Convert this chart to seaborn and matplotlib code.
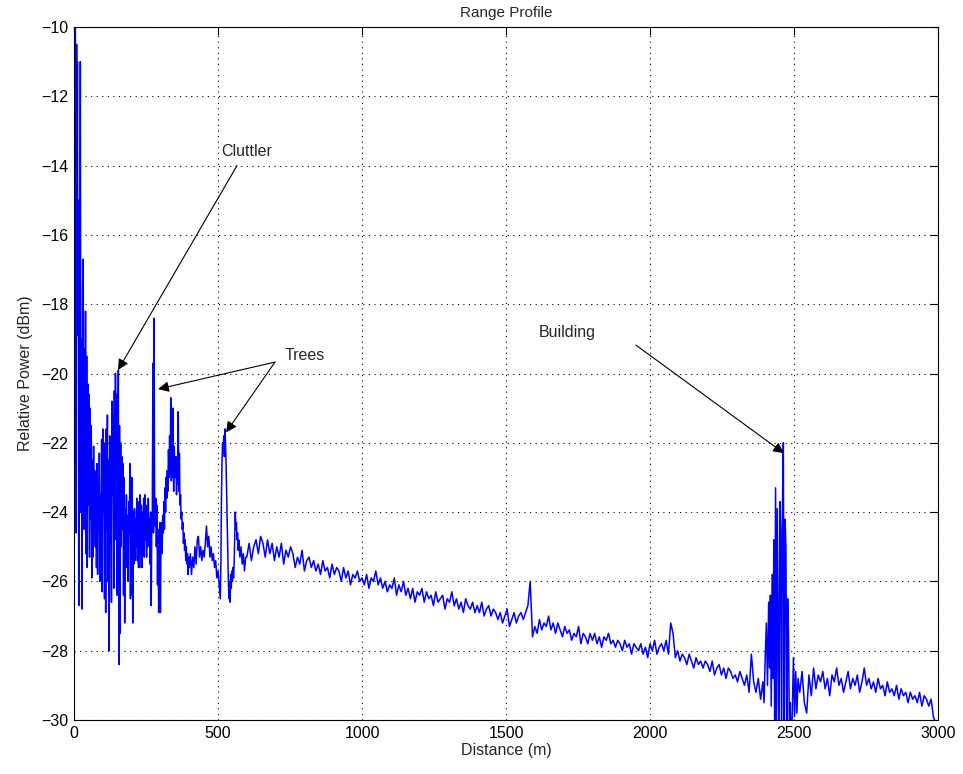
import numpy as np
import pandas as pd
import matplotlib
matplotlib.use("Agg")
import matplotlib.pyplot as plt
import seaborn as sns

# ---------------- data ----------------
near_dist = [0, 1.5, 3, 4.5, 6, 7.5, 9, 10.5, 12, 13.5, 15, 16.5, 18, 20, 22, 24, 26, 28, 30, 32,
             34, 36, 38, 40, 42, 44, 46, 48, 50, 52, 54, 56, 58,
             60, 62, 64, 66, 68, 70, 72, 74, 76, 78, 80, 82, 84, 86, 88, 90, 92, 94, 96, 98,
             100, 102, 104, 106, 108, 110, 112, 114, 116, 118, 120, 122, 124, 126, 128, 130,
             132, 134, 136, 138, 140, 142, 144, 146, 148, 150, 152, 154, 156, 158, 160, 162,
             164, 166, 168, 170, 172, 174, 176, 178, 180, 182, 184, 186, 188, 190, 192, 194,
             196, 198, 200, 202, 204, 206, 208, 210, 212, 214, 216, 218, 220, 222, 224, 226,
             228, 230, 232, 234, 236, 238, 240, 242, 244, 246, 248, 250, 252, 254, 256, 258,
             260, 262, 264, 266, 268, 270, 272, 274, 276, 278, 280, 282, 284, 286, 288, 290,
             292, 294, 296, 298, 300, 302, 304, 306, 308, 310, 312, 314, 316, 318, 320, 322,
             324, 326, 328, 330, 332, 334, 336, 338, 340, 342, 344, 346, 348, 350, 352, 354,
             356, 358, 360, 362, 364, 366, 368, 370, 372, 374, 376, 378, 380, 382, 384, 386,
             388, 390, 392, 394, 396, 398, 400, 404, 408, 412, 416, 420, 424, 428, 432, 436,
             440, 444, 448, 452, 456, 460, 464, 468, 472, 476, 480, 484, 488, 492, 496, 500,
             504, 508, 510, 512, 514, 516, 518, 520, 522, 524, 526, 528, 530, 532, 534, 536,
             538, 540, 542, 544, 546, 548, 550, 552, 554, 556, 558, 560, 562, 564, 566, 568,
             570, 572, 576, 580, 584, 588, 592, 596]
near_power = [-24.4, -8.0, -16.5, -9.0, -13.8, -24.6, -10.5, -16.0, -11.0, -18.9, -15.0, -26.7,
              -16.0, -18.8, -11.0, -24.0, -19.0, -26.8, -17.5, -16.7,
              -24.5, -19.3, -23.5, -18.2, -25.2, -19.5, -25.6, -20.3, -23.8, -20.6, -25.3, -21.0, -24.2,
              -21.5, -25.9, -22.5, -25.3, -22.1, -24.6, -22.8, -25.0, -23.0, -25.6, -22.6, -25.8,
              -23.2, -24.5, -22.3, -26.0, -23.5, -24.8, -21.9, -26.3,
              -21.6, -24.0, -22.4, -26.5, -22.0, -26.9, -21.6, -24.5, -21.2, -26.0, -22.5, -28.0,
              -21.8, -25.0, -22.3, -26.6,
              -20.8, -23.5, -21.2, -26.2, -20.5, -24.8, -20.0, -23.0, -20.6, -26.4, -22.8, -19.9,
              -28.4, -21.5, -27.5, -22.0,
              -25.0, -22.4, -24.5, -22.6, -26.4, -23.0, -27.2, -23.9, -25.4, -23.5, -25.6, -24.1,
              -26.0, -23.7, -24.6, -22.6,
              -26.5, -23.8, -26.4, -23.0, -27.2, -24.0, -25.5, -23.9, -25.4, -24.2, -25.0, -23.6,
              -25.4, -24.0, -25.6, -23.7,
              -25.6, -23.5, -25.2, -23.8, -25.6, -24.0, -24.8, -23.6, -25.3, -23.5, -24.8, -24.0,
              -25.3, -23.8, -25.0, -23.6,
              -24.8, -24.2, -25.5, -24.0, -26.7, -24.5, -24.0, -19.7, -24.6, -18.4, -23.7, -24.4,
              -23.6, -25.0, -23.8, -26.1,
              -24.5, -26.9, -25.0, -24.3, -26.9, -25.0, -24.3, -25.2, -24.1, -24.6, -23.7, -24.5,
              -23.3, -24.0, -23.0, -23.6,
              -22.8, -23.4, -22.2, -23.0, -21.8, -22.9, -20.7, -23.1, -22.4, -23.0, -21.0, -23.4,
              -22.1, -23.0, -22.6, -22.4,
              -23.5, -22.6, -23.2, -21.1, -23.4, -22.3, -23.8, -23.5, -24.2, -24.0, -24.5, -24.3,
              -24.9, -24.6, -25.1, -24.8,
              -25.4, -25.0, -25.5, -25.2, -25.8, -25.3, -25.6, -25.2, -25.8, -25.3, -25.6, -25.0,
              -25.5, -24.8, -24.7, -25.3,
              -25.0, -25.4, -25.1, -25.3, -24.9, -24.4, -25.0, -24.7, -25.3, -25.0, -25.4, -25.2,
              -25.6, -25.4, -25.9, -25.7,
              -26.1, -26.5, -25.5, -23.6, -22.5, -22.0, -22.2, -21.8, -22.4, -21.6, -22.0, -22.6,
              -23.4, -24.3, -25.2, -26.0,
              -26.5, -26.0, -26.6, -25.8, -26.2, -25.7, -26.0, -25.6, -25.9, -25.5, -24.8, -24.0,
              -24.5, -24.3, -24.8, -24.6,
              -25.1, -24.8, -25.3, -25.0, -25.5, -25.2, -25.7, -25.3]

mid_start = 600
mid_step = 8
mid_power = [
    -25.3, -24.9, -25.4, -25.0, -24.8, -25.2, -24.7, -24.9, -25.3, -24.8,
    -25.2, -24.9, -25.4, -25.0, -25.3, -24.9, -25.5, -25.1, -25.3, -25.0,
    -25.2, -25.6, -25.3, -25.5, -25.1, -25.7, -25.4, -25.3, -25.6, -25.4,
    -25.7, -25.5, -25.8, -25.4, -25.7, -25.6, -25.9, -25.5, -25.8, -25.6,
    -25.7, -26.0, -25.6, -25.9, -25.7, -26.1, -25.8, -25.9, -25.7, -26.0,
    -25.9, -26.1, -25.8, -26.2, -25.9, -26.0, -25.7, -26.1, -25.9, -26.2,
    -26.0, -26.3, -26.1, -26.2, -25.9, -26.4, -26.1, -26.3, -26.0, -26.4,
    -26.2, -26.5, -26.2, -26.6, -26.3, -26.4, -26.2, -26.6, -26.3, -26.5,
    -26.4, -26.7, -26.3, -26.6, -26.5, -26.4, -26.8, -26.5, -26.6, -26.3,
    -26.7, -26.5, -26.8, -26.6, -26.9, -26.5, -26.7, -26.8, -26.6, -26.9,
    -26.7, -26.9, -26.6, -27.0, -26.8, -26.7, -27.0, -26.8, -26.9, -27.1,
    -26.9, -27.2, -27.0, -26.8, -27.3, -27.1, -26.9, -27.2, -27.0, -26.9,
    -27.1, -26.9, -26.7, -26.0, -27.6, -27.3, -27.5, -27.1, -27.4, -27.2,
    -27.3, -27.0, -27.4, -27.2, -27.5, -27.2, -27.4, -27.6, -27.3, -27.5,
    -27.4, -27.7, -27.5, -27.6, -27.3, -27.8, -27.5, -27.6, -27.8, -27.5,
    -27.7, -27.5, -27.8, -27.6, -27.9, -27.6, -27.7, -27.5, -27.8, -27.7,
    -27.9, -27.7, -27.8, -28.0, -27.7, -27.9, -27.8, -28.1, -27.8, -27.9,
    -28.0, -27.8, -28.1, -27.9, -28.2, -27.8, -28.0, -27.7, -28.1, -27.9,
    -27.8, -28.0, -27.7, -28.1, -27.2, -27.5, -28.2, -28.0, -28.3, -28.1,
    -28.2, -28.4, -28.1, -28.3, -28.5, -28.2, -28.4, -28.3, -28.5, -28.3,
    -28.4, -28.6, -28.3, -28.7, -28.5, -28.4, -28.7, -28.5, -28.8, -28.5,
    -28.6, -28.8, -28.7, -28.9, -28.6, -28.8, -29.0, -28.7, -29.2, -28.1,
    -28.9, -29.2, -28.8, -29.4, -28.9]

bld_dist = [2396, 2400, 2404, 2408, 2412, 2415, 2418, 2421, 2424, 2427, 2430, 2433, 2436, 2439,
            2442, 2445, 2448, 2451, 2454, 2457, 2460, 2463, 2466, 2469, 2472, 2475, 2478, 2481,
            2484, 2487, 2490, 2494, 2498, 2502, 2506, 2510, 2514]
bld_power = [-29.5, -28.2, -27.2, -29.0, -26.6, -28.5, -26.4, -29.6, -25.8, -28.8, -24.8, -30.5,
             -23.3, -31.0, -23.9, -27.5, -31.0, -23.7, -24.5, -31.0, -23.8, -22.0, -31.0, -24.2,
             -25.0, -31.0, -26.5, -27.6, -30.2, -29.5, -31.0, -29.8, -28.2, -29.9, -28.6, -29.8,
             -28.8]

far_start = 2520
far_step = 8
far_power = [
    -29.2, -28.6, -29.5, -29.8, -28.7, -29.3, -28.5, -29.1, -28.7, -28.9,
    -28.6, -29.1, -28.8, -29.3, -28.7, -28.9, -28.5, -29.0, -28.8, -29.2,
    -28.9, -28.6, -29.1, -28.8, -29.0, -28.7, -29.2, -28.9, -28.5, -29.0,
    -28.8, -29.1, -28.9, -29.2, -28.8, -29.1, -29.0, -29.3, -28.9, -29.2,
    -29.1, -29.3, -29.0, -29.4, -29.1, -29.3, -29.2, -29.5, -29.2, -29.4,
    -29.3, -29.5, -29.2, -29.6, -29.3, -29.4, -29.6, -29.4, -29.9, -30.1,
    -30.3]

x_ticks = [0, 500, 1000, 1500, 2000, 2500, 3000]
y_ticks = [-30, -28, -26, -24, -22, -20, -18, -16, -14, -12, -10]

# ---------------- assemble ----------------
mid_dist = mid_start + mid_step * np.arange(len(mid_power))
far_dist = far_start + far_step * np.arange(len(far_power))
df = pd.DataFrame({
    "Distance": np.concatenate([near_dist, mid_dist, bld_dist, far_dist]),
    "Power": np.concatenate([near_power, mid_power, bld_power, far_power]),
})

sns.set_style("white")
plt.rcParams["font.family"] = ["Liberation Sans", "DejaVu Sans"]

fig = plt.figure(figsize=(9.63, 7.74), dpi=100)
ax = fig.add_axes([74 / 963, 1 - 720 / 774, (938 - 74) / 963, (720 - 27) / 774])

sns.lineplot(data=df, x="Distance", y="Power", ax=ax, color=(0, 0, 1),
             linewidth=1.1, estimator=None, sort=False)

ax.set_xlim(0, 3000)
ax.set_ylim(-30, -10)
ax.set_xticks(x_ticks)
ax.set_yticks(y_ticks)
ax.set_xticklabels([str(v) for v in x_ticks])
ax.set_yticklabels([str(v).replace("-", "\u2212") for v in y_ticks])
ax.grid(True, linestyle=(0, (1, 4)), color="black", linewidth=0.8)
ax.tick_params(direction="in", length=6, width=0.8, top=True, right=True,
               labelsize=11.5, colors="black", pad=4)
for s in ax.spines.values():
    s.set_visible(True)
    s.set_color("black")
    s.set_linewidth(0.8)

ax.set_title("Range Profile", fontsize=11, pad=7)
ax.set_xlabel("Distance (m)", fontsize=11.5, labelpad=2)
ax.set_ylabel("Relative Power (dBm)", fontsize=11.5, labelpad=6)

arrow = dict(arrowstyle="-|>", color="black", lw=0.8, mutation_scale=16,
             shrinkA=0, shrinkB=0)
ax.annotate("", xy=(153, -19.9), xytext=(566, -14.0), arrowprops=arrow)
ax.text(600, -13.6, "Cluttler", ha="center", va="center", fontsize=11.5)

ax.annotate("", xy=(292, -20.45), xytext=(698, -19.67), arrowprops=arrow)
ax.annotate("", xy=(528, -21.7), xytext=(698, -19.67), arrowprops=arrow)
ax.text(802, -19.47, "Trees", ha="center", va="center", fontsize=11.5)

ax.annotate("", xy=(2465, -22.3), xytext=(1951, -19.18), arrowprops=arrow)
ax.text(1712, -18.83, "Building", ha="center", va="center", fontsize=11.5)

fig.savefig("out.png", dpi=100)
